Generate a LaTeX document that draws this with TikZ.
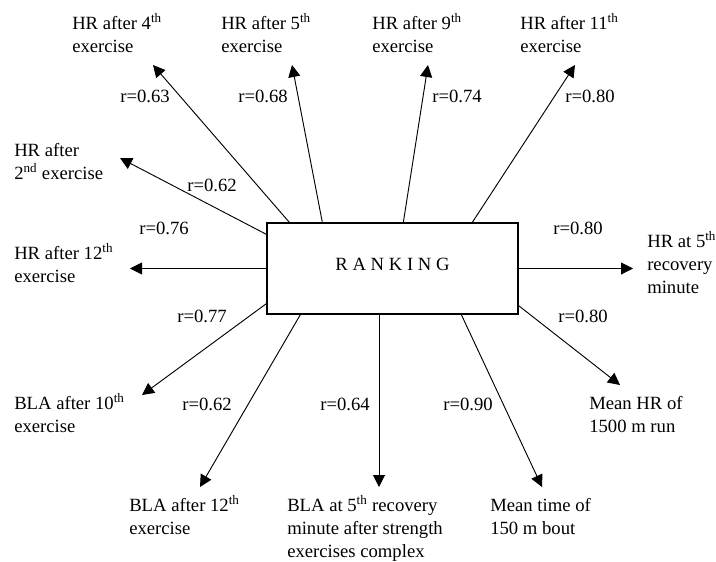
\documentclass[tikz,border=0pt]{standalone}
\usepackage{fontspec}
\setmainfont{Liberation Serif}
\usepackage{tikz}
\usetikzlibrary{arrows.meta,calc}
\tikzstyle{target} = [align=left,anchor=base west,inner sep=0pt]
\tikzstyle{coef} = [inner sep=0pt]
\tikzstyle{link} = [->,line width=0.7pt]
\tikzset{>={Triangle[length=9pt,width=9pt]}}

\begin{document}
\begin{tikzpicture}[x=0.75pt,y=-0.75pt,font=\fontsize{14}{16.9}\selectfont]
    \useasboundingbox (0,0) rectangle (716,561);

    \node [draw,line width=1pt,minimum width=188.25pt,minimum height=68.25pt,text height=9.3pt,text depth=7pt,inner sep=0pt] (rank) at (392.5,268.5) {R A N K I N G};

    % labels, placed at the baseline of their last line
    \node [target] (hr4) at (72,52) {HR after 4\textsuperscript{th}\\exercise};
    \node [target] (hr5) at (221,52) {HR after 5\textsuperscript{th}\\exercise};
    \node [target] (hr9) at (372,52) {HR after 9\textsuperscript{th}\\exercise};
    \node [target] (hr11) at (520,52) {HR after 11\textsuperscript{th}\\exercise};
    \node [target] (hr2) at (14,179) {HR after\\2\textsuperscript{nd} exercise};
    \node [target] (hr12) at (14,282) {HR after 12\textsuperscript{th}\\exercise};
    \node [target] (bla10) at (14,432) {BLA after 10\textsuperscript{th}\\exercise};
    \node [target] (bla12) at (129,534) {BLA after 12\textsuperscript{th}\\exercise};
    \node [target] (bla5) at (287,557) {BLA at 5\textsuperscript{th} recovery\\minute after strength\\exercises complex};
    \node [target] (time) at (490,534) {Mean time of\\150 m bout};
    \node [target] (mhr) at (589,432) {Mean HR of\\1500 m run};
    \node [target] (rec) at (647,293) {HR at 5\textsuperscript{th}\\recovery\\minute};

    % arrow tips
    \coordinate (t4) at (153,65);
    \coordinate (t5) at (292,65);
    \coordinate (t9) at (428,65);
    \coordinate (t11) at (575,65);
    \coordinate (t2) at (120,158);
    \coordinate (t12) at (130,268.5);
    \coordinate (t10) at (142,395);
    \coordinate (tb12) at (200,487);
    \coordinate (tb5) at (379,487);
    \coordinate (tt) at (542,487);
    \coordinate (tm) at (620,385);
    \coordinate (tr) at (633,268.5);

    \draw [link] ($(rank.north west)+(23,0)$) -- (t4);
    \draw [link] ($(rank.north west)+(56,0)$) -- (t5);
    \draw [link] ($(rank.north west)+(137,0)$) -- (t9);
    \draw [link] ($(rank.north west)+(206,0)$) -- (t11);
    \draw [link] ($(rank.north west)+(0,12)$) -- (t2);
    \draw [link] (rank.west) -- (t12);
    \draw [link] ($(rank.south west)+(0,-11)$) -- (t10);
    \draw [link] ($(rank.south west)+(34,0)$) -- (tb12);
    \draw [link] (tb5 |- rank.south) -- (tb5);
    \draw [link] ($(rank.south west)+(195,0)$) -- (tt);
    \draw [link] ($(rank.south east)+(0,-9)$) -- (tm);
    \draw [link] (rank.east) -- (tr);

    \node [coef] (c63) at (145,96) {r=0.63};
    \node [coef] (c68) at (263,96) {r=0.68};
    \node [coef] (c74) at (457,96) {r=0.74};
    \node [coef] (c80a) at (590,96) {r=0.80};
    \node [coef] (c62a) at (212,185) {r=0.62};
    \node [coef] (c76) at (164,228) {r=0.76};
    \node [coef] (c77) at (202,316) {r=0.77};
    \node [coef] (c62b) at (207,404) {r=0.62};
    \node [coef] (c64) at (345,404) {r=0.64};
    \node [coef] (c90) at (468,404) {r=0.90};
    \node [coef] (c80b) at (578,228) {r=0.80};
    \node [coef] (c80c) at (583,316) {r=0.80};
\end{tikzpicture}
\end{document}
